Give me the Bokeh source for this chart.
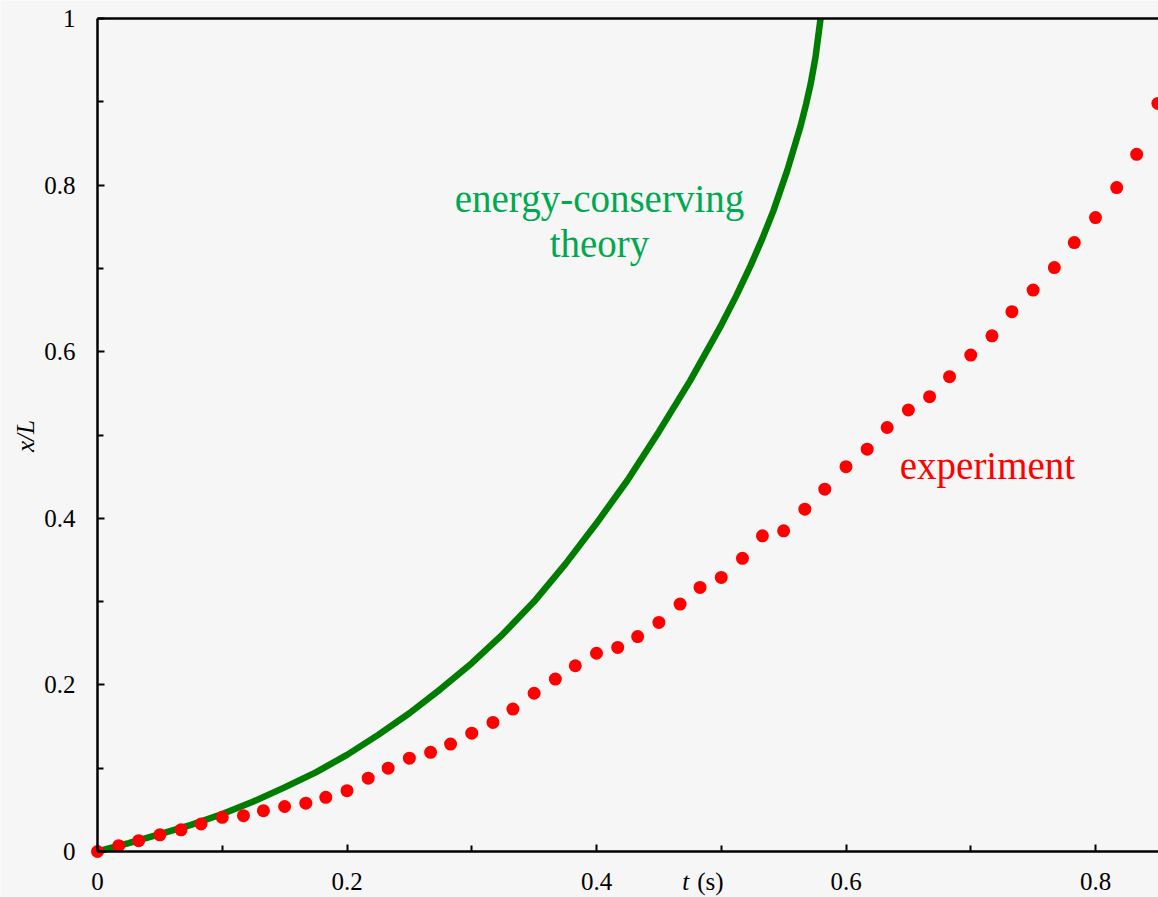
from bokeh.plotting import figure
from bokeh.models import Range1d, FixedTicker, Label, LinearAxis
from bokeh.embed import file_html
from bokeh.resources import INLINE

# ---- data ----
theory_t = [0.0, 0.025, 0.05, 0.075, 0.1, 0.125, 0.15, 0.175, 0.2, 0.225, 0.25,
            0.275, 0.3, 0.325, 0.35, 0.375, 0.4, 0.425, 0.45, 0.475, 0.5,
            0.512, 0.5234, 0.533, 0.542, 0.553, 0.5636, 0.568, 0.5716, 0.5756, 0.5796]
theory_x = [0.0, 0.010, 0.021, 0.032, 0.045, 0.060, 0.077, 0.095, 0.116, 0.140, 0.166,
            0.195, 0.226, 0.261, 0.300, 0.345, 0.394, 0.446, 0.504, 0.565, 0.632,
            0.667, 0.703, 0.736, 0.770, 0.818, 0.871, 0.897, 0.921, 0.954, 1.0]

exp_t = [0.000, 0.017, 0.033, 0.050, 0.067, 0.083, 0.100, 0.117, 0.133, 0.150,
         0.167, 0.183, 0.200, 0.217, 0.233, 0.250, 0.267, 0.283, 0.300, 0.317,
         0.333, 0.350, 0.367, 0.383, 0.400, 0.417, 0.433, 0.450, 0.467, 0.483,
         0.500, 0.517, 0.533, 0.550, 0.567, 0.583, 0.600, 0.617, 0.633, 0.650,
         0.667, 0.683, 0.700, 0.717, 0.733, 0.750, 0.767, 0.783, 0.800, 0.817,
         0.833, 0.850]
exp_x = [0.000, 0.007, 0.013, 0.020, 0.026, 0.033, 0.041, 0.043, 0.049, 0.054,
         0.058, 0.065, 0.073, 0.088, 0.100, 0.112, 0.119, 0.129, 0.142, 0.155,
         0.171, 0.190, 0.207, 0.223, 0.238, 0.245, 0.258, 0.275, 0.297, 0.317,
         0.329, 0.352, 0.379, 0.385, 0.411, 0.435, 0.462, 0.483, 0.509, 0.530,
         0.546, 0.570, 0.596, 0.619, 0.648, 0.674, 0.701, 0.731, 0.761, 0.797,
         0.837, 0.898]

x_major = [0.0, 0.2, 0.4, 0.6, 0.8]
x_minor = [0.1, 0.3, 0.5, 0.7]
x_labels = ["0", "0.2", "0.4", "0.6", "0.8"]
y_major = [0.0, 0.2, 0.4, 0.6, 0.8, 1.0]
y_minor = [0.1, 0.3, 0.5, 0.7, 0.9]
y_labels = ["0", "0.2", "0.4", "0.6", "0.8", "1"]

FONT = "Liberation Serif"
BG = "#f6f6f6"
X_END = 0.8505

# The frame covers the whole canvas; the axes sit at t = 0 and x/L = 0,
# so that every text (axis titles included) lies inside the frame.
p = figure(frame_width=1158, frame_height=897,
           x_range=Range1d(-97 / 1247.5, X_END), y_range=Range1d(-46 / 833, 1 + 18 / 833),
           output_backend="svg", toolbar_location=None, min_border=0)
p.background_fill_color = BG
p.border_fill_color = BG
p.outline_line_color = None
p.xgrid.visible = False
p.ygrid.visible = False

for ax, major, minor, labels, bnd in ((p.xaxis[0], x_major, x_minor, x_labels, (0, X_END)),
                                       (p.yaxis[0], y_major, y_minor, y_labels, (0, 1))):
    ax.fixed_location = 0
    ax.bounds = bnd
    ax.ticker = FixedTicker(ticks=major, minor_ticks=minor)
    ax.major_label_overrides = {v: s for v, s in zip(major, labels)}
    ax.axis_line_color = "black"
    ax.axis_line_width = 2.5
    ax.major_tick_in = 7
    ax.major_tick_out = 0
    ax.minor_tick_in = 6
    ax.minor_tick_out = 0
    ax.major_tick_line_width = 2
    ax.minor_tick_line_width = 2
    ax.major_tick_line_color = "black"
    ax.minor_tick_line_color = "black"
    ax.major_label_text_font = FONT
    ax.major_label_text_font_size = "25px"
    ax.major_label_text_color = "black"

p.yaxis[0].major_label_standoff = 22
p.xaxis[0].major_label_standoff = 21

top_axis = LinearAxis(ticker=FixedTicker(ticks=[]), fixed_location=1, bounds=(0, X_END),
                      axis_line_width=2.5, axis_line_color="black",
                      major_tick_in=0, major_tick_out=0, minor_tick_in=0, minor_tick_out=0,
                      major_label_text_font_size="0px")
p.add_layout(top_axis, "above")

p.line(theory_t, theory_x, line_color="#007d00", line_width=6.5)
p.scatter(exp_t, exp_x, size=13, fill_color="#ff0000", line_color=None)

def lab(x, y, text, color="black", size="39px", style="normal", align="center",
        baseline="alphabetic", angle=0.0):
    p.add_layout(Label(x=x, y=y, text=text, text_font=FONT, text_font_size=size,
                       text_color=color, text_font_style=style, text_align=align,
                       text_baseline=baseline, angle=angle))

lab(0.4024, 0.7839, "energy-conserving", "#00a84f")
lab(0.4024, 0.7299, "theory", "#00a84f")
lab(0.7134, 0.4638, "experiment", "#ff0000")
lab(0.4687, -0.036, "t", size="25px", style="italic", align="left", baseline="middle")
lab(0.4807, -0.036, "(s)", size="25px", align="left", baseline="middle")
lab(-0.0577, 0.4988, "x/L", size="25px", style="italic", baseline="middle", angle=1.5708)

open("out.html", "w").write(file_html(p, INLINE))
